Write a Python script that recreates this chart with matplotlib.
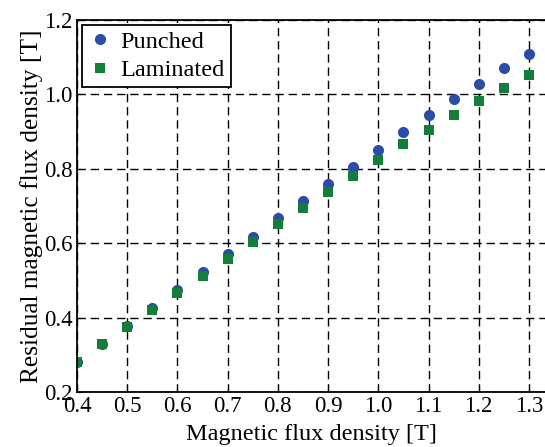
import matplotlib
matplotlib.use("Agg")
import matplotlib.pyplot as plt

x = [0.40, 0.45, 0.50, 0.55, 0.60, 0.65, 0.70, 0.75, 0.80, 0.85,
     0.90, 0.95, 1.00, 1.05, 1.10, 1.15, 1.20, 1.25, 1.30]
punched = [0.281, 0.330, 0.378, 0.427, 0.474, 0.522, 0.571, 0.617, 0.667, 0.713,
           0.759, 0.805, 0.851, 0.898, 0.944, 0.988, 1.029, 1.070, 1.109]
laminated = [0.280, 0.328, 0.374, 0.421, 0.467, 0.513, 0.558, 0.604, 0.651, 0.695,
             0.738, 0.781, 0.824, 0.866, 0.905, 0.945, 0.982, 1.016, 1.052]
xticks = [0.4, 0.5, 0.6, 0.7, 0.8, 0.9, 1.0, 1.1, 1.2, 1.3]
yticks = [0.2, 0.4, 0.6, 0.8, 1.0, 1.2]

plt.rcParams['font.family'] = ['Liberation Serif', 'DejaVu Serif']
plt.rcParams['mathtext.fontset'] = 'stix'

fig = plt.figure(figsize=(5.45, 4.47), dpi=100)
ax = fig.add_axes([77/545, 55/447, 1 - 77/545, 372/447])

ax.plot(x, punched, 'o', color='#2C4DA6', markersize=8, markeredgewidth=0, label='Punched')
ax.plot(x, laminated, 's', color='#137E3A', markersize=6.5, markeredgewidth=0, label='Laminated')

ax.set_xlim(0.4, 1.332)
ax.set_ylim(0.2, 1.2)
ax.set_xticks(xticks)
ax.set_xticklabels([f"{v:.1f}" for v in xticks])
ax.set_yticks(yticks)
ax.set_yticklabels([f"{v:.1f}" for v in yticks])
ax.tick_params(direction='in', labelsize=16.5, length=4, pad=3, colors='black')
ax.grid(True, color='black', linestyle=(0, (6, 3.5)), linewidth=1.0)
ax.set_axisbelow(True)
for s in ax.spines.values():
    s.set_linewidth(1.3)
ax.spines['right'].set_visible(False)

ax.set_xlabel('Magnetic flux density [T]', fontsize=17.5, labelpad=5)
ax.set_ylabel('Residual magnetic flux density [T]', fontsize=18.3, labelpad=1)

leg = ax.legend(loc='upper left', fontsize=17.5, frameon=True, fancybox=False,
                edgecolor='black', framealpha=1, borderaxespad=0.2,
                handletextpad=0.35, borderpad=0.25, labelspacing=0.25, handlelength=1.0)
leg.get_frame().set_linewidth(1.3)

fig.savefig('out.png', dpi=100)
